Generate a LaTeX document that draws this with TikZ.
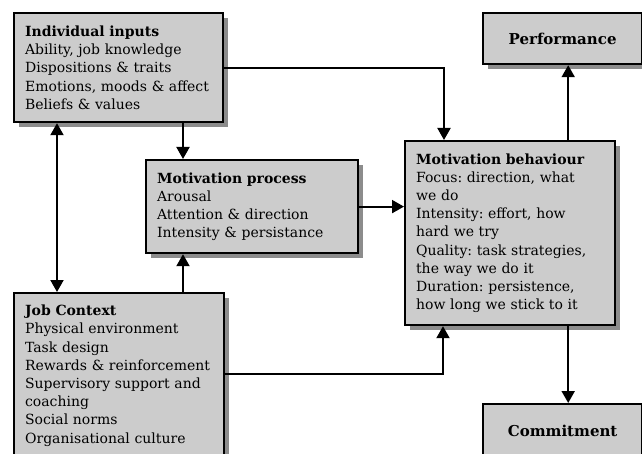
\documentclass[tikz,border=0pt]{standalone}
\usepackage{fontspec}
\setmainfont{DejaVu Serif}
\usetikzlibrary{arrows.meta,shadows}
\definecolor{boxgray}{HTML}{CCCCCC}
\definecolor{shadowgray}{HTML}{8C8C8C}
\tikzset{
  box/.style={draw=black, line width=2.2pt, fill=boxgray, anchor=north west,
    align=left, inner xsep=11pt, inner ysep=0pt,
    font=\frenchspacing\fontsize{14}{18.2}\selectfont,
    drop shadow={shadow xshift=5pt, shadow yshift=-5pt, fill=shadowgray, opacity=1}},
  cbox/.style={box, align=center, font=\bfseries\fontsize{15}{18}\selectfont},
  conn/.style={line width=2pt, -{Triangle[length=12pt,width=13pt]}},
  dconn/.style={line width=2pt, {Triangle[length=12pt,width=13pt]}-{Triangle[length=12pt,width=13pt]}}
}
\begin{document}
\begin{tikzpicture}[x=1pt,y=-1pt]
\useasboundingbox (0,0) rectangle (642,454);
\clip (0,0) rectangle (642,454);
\node[box, minimum width=209pt, minimum height=109pt, text width=187pt] (inp) at (13,12)
  {\textbf{Individual inputs}\\Ability, job knowledge\\Dispositions \& traits\\Emotions, moods \& affect\\Beliefs \& values};
\node[cbox, minimum width=159pt, minimum height=51pt] (perf) at (482,12) {Performance};
\node[box, minimum width=212pt, minimum height=93pt, text width=190pt] (proc) at (145,159)
  {\textbf{Motivation process}\\Arousal\\Attention \& direction\\Intensity \& persistance};
\node[box, minimum width=210pt, minimum height=184pt, text width=188pt] (beh) at (404,140)
  {\textbf{Motivation behaviour}\\Focus: direction, what\\we do\\Intensity: effort, how\\hard we try\\Quality: task strategies,\\the way we do it\\Duration: persistence,\\how long we stick to it};
\node[box, minimum width=210pt, minimum height=165pt, text width=188pt] (job) at (13,292)
  {\textbf{Job Context}\\Physical environment\\Task design\\Rewards \& reinforcement\\Supervisory support and\\coaching\\Social norms\\Organisational culture};
\node[cbox, minimum width=159pt, minimum height=54pt] (com) at (482,403) {Commitment};
% connectors
\coordinate (ibx) at ([xshift=40pt]beh.north west);
\draw[conn] (inp.east) -| (ibx);
\coordinate (pt) at ([xshift=38pt]proc.north west);
\draw[conn] (inp.south -| pt) -- (pt);
\coordinate (pb) at ([xshift=38pt]proc.south west);
\draw[conn] (job.north -| pb) -- (pb);
\draw[conn] (proc.east) -- (proc.east -| beh.west);
\coordinate (jr) at ([yshift=-82pt]job.north east);
\coordinate (bb) at ([xshift=39pt]beh.south west);
\draw[conn] (jr) -| (bb);
\coordinate (bt) at ([xshift=-48pt]beh.north east);
\draw[conn] (bt) -- (perf.south -| bt);
\coordinate (bs) at ([xshift=-48pt]beh.south east);
\draw[conn] (bs) -- (com.north -| bs);
\coordinate (dl) at ([xshift=44pt]inp.south west);
\draw[dconn] (dl) -- (job.north -| dl);
\end{tikzpicture}
\end{document}
